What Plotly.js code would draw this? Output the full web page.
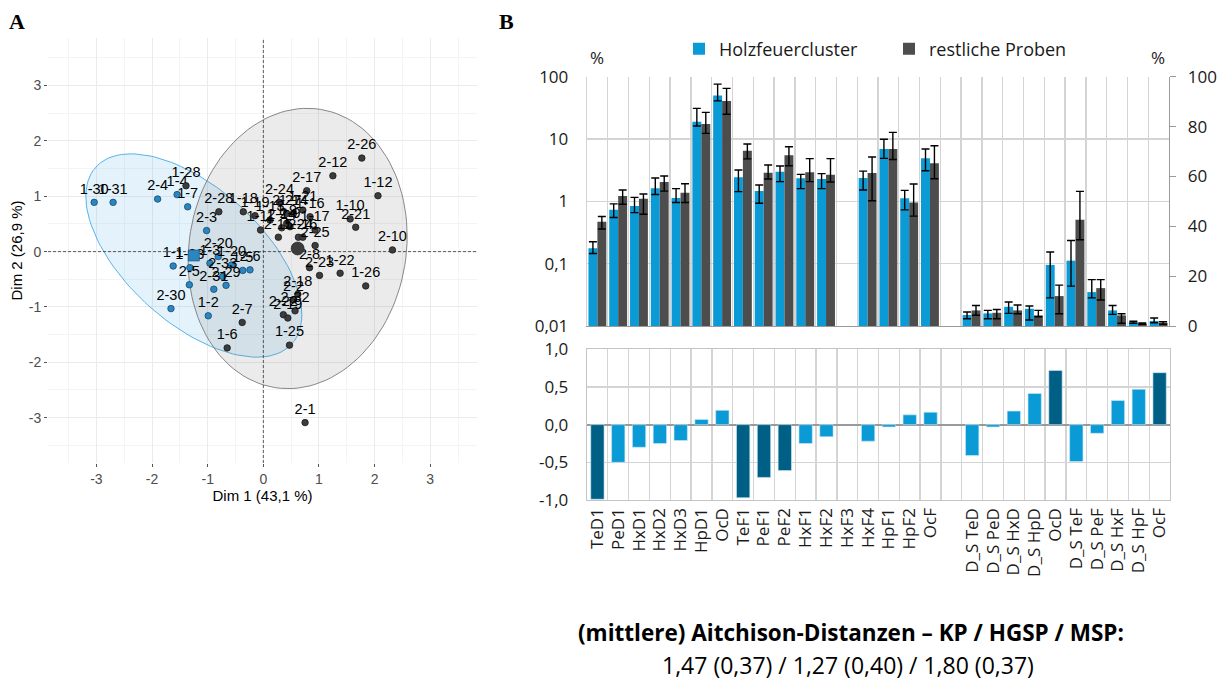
<!DOCTYPE html>
<html>
<head>
<meta charset="utf-8">
<script src="https://cdn.plot.ly/plotly-3.0.1.min.js"></script>
<style>
html,body{margin:0;padding:0;background:#fff;}
#chart{width:1227px;height:680px;}
</style>
</head>
<body>
<div id="chart"></div>
<script>
// ---------- Panel A: PCA individuals ----------
const holzLabels = ['1-30','1-31','2-4','1-4','1-7','2-3','1-1','1-33','1-3','2-20','1-20','1-5','2-6','2-33','2-5','2-31','2-29','2-30','1-2'];
const holzDim1   = [-3.04,-2.70,-1.90,-1.55,-1.36,-1.02,-1.62,-1.32,-0.96,-0.81,-0.57,-0.37,-0.24,-0.73,-1.33,-0.89,-0.67,-1.66,-0.99];
const holzDim2   = [0.89,0.89,0.95,1.03,0.81,0.38,-0.26,-0.29,-0.21,-0.09,-0.24,-0.34,-0.33,-0.45,-0.60,-0.68,-0.61,-1.03,-1.16];

const restLabels = ['1-28','2-28','1-18','1-19','1-11','2-24','2-27','1-14','1-13','1-21','2-17','2-12','2-26','1-12','1-10','2-21','2-10','1-16','1-17','2-9','1-9','2-14','2-15','1-24','2-16','2-25','2-8','2-23','1-22','1-26','2-18','2-2','2-32','2-22','2-19','1-25','2-7','1-6','2-1'];
const restDim1   = [-1.39,-0.80,-0.36,-0.15,-0.05,0.29,0.42,0.54,0.12,0.71,0.78,1.25,1.77,2.06,1.56,1.66,2.32,0.84,0.93,0.48,0.42,0.33,0.27,0.63,0.71,0.93,0.83,1.01,1.38,1.84,0.62,0.54,0.57,0.36,0.44,0.47,-0.38,-0.65,0.75];
const restDim2   = [1.19,0.72,0.72,0.65,0.39,0.89,0.69,0.69,0.57,0.75,1.10,1.37,1.69,1.01,0.59,0.44,0.03,0.63,0.39,0.45,0.51,0.43,0.26,0.26,0.26,0.11,-0.29,-0.43,-0.39,-0.62,-0.77,-0.87,-1.07,-1.14,-1.20,-1.69,-1.28,-1.74,-3.09];

const dimTicks = [-3,-2,-1,0,1,2,3];
const dimTickText = ['-3','-2','-1','0','1','2','3'];
const dimRangeX = [-3.87, 3.84];
const dimRangeY = [-3.82, 3.86];

// ---------- Panel B: bar charts ----------
const categories = ['TeD1','PeD1','HxD1','HxD2','HxD3','HpD1','OcD','TeF1','PeF1','PeF2','HxF1','HxF2','HxF3','HxF4','HpF1','HpF2','OcF','',
  'D_S TeD','D_S PeD','D_S HxD','D_S HpD','OcD','D_S TeF','D_S PeF','D_S HxF','D_S HpF','OcF'];

// relative shares, % (log axis), categories 0..16
const holzLog   = [0.176,0.73,0.84,1.62,1.13,19,50,2.43,1.46,2.99,2.34,2.28,null,2.37,6.9,1.12,4.9];
const holzLogHi = [0.225,0.91,1.16,2.37,1.6,31,76,3.18,1.83,3.69,2.71,2.78,null,3.06,9.9,1.5,6.9];
const holzLogLo = [0.146,0.55,0.66,1.29,0.96,16.2,41,1.43,0.93,2.07,1.6,1.6,null,1.52,4.9,0.73,3.1];
const restLog   = [0.47,1.22,1.1,2.04,1.38,17.4,40.8,6.5,2.88,5.47,2.92,2.68,null,2.85,6.9,0.96,4.1];
const restLogHi = [0.57,1.52,1.31,2.55,1.92,26.8,65,8.3,3.83,7.5,4.84,4.84,null,5.14,12.8,1.9,7.8];
const restLogLo = [0.36,0.9,0.62,1.46,0.96,12.3,25,4.8,2.28,3.73,2.07,2.04,null,1.02,4.7,0.58,2.3];

// D_S shares, % (right linear axis), categories 18..27
const holzShare   = [4.4,5.05,7.7,6.9,24.5,26.2,13.6,6.25,1.6,2.0];
const holzShareHi = [5.6,6.25,9.6,8.0,29.7,34.3,18.6,8.2,1.9,3.2];
const holzShareLo = [2.9,2.9,5.05,2.4,11.3,16.0,11.3,4.65,1.1,1.3];
const restShare   = [6.25,5.3,6.25,4.25,12.0,42.6,15.2,4.25,0.9,1.3];
const restShareHi = [8.2,6.6,8.4,6.25,16.4,54.0,18.6,4.9,1.2,1.7];
const restShareLo = [4.3,2.9,4.9,3.7,4.9,34.6,10.4,1.1,0.7,0.7];

// differences (lower panel), all 28 categories
const diffValues = [-0.99,-0.50,-0.30,-0.25,-0.21,0.07,0.19,-0.97,-0.70,-0.61,-0.25,-0.16,null,-0.22,-0.03,0.13,0.165,null,
  -0.41,-0.03,0.18,0.415,0.72,-0.49,-0.115,0.32,0.47,0.69];

const logTicks = [0.01,0.1,1,10,100];
const logTickText = ['0,01','0,1','1','10','100'];
const shareTicks = [0,20,40,60,80,100];
const diffTicks = [-1,-0.5,0,0.5,1];
const diffTickText = ['-1,0','-0,5','0,0','0,5','1,0'];

const captionTitle = '(mittlere) Aitchison-Distanzen – KP / HGSP / MSP:';
const captionValues = '1,47 (0,37) / 1,27 (0,40) / 1,80 (0,37)';

// ---------- helpers ----------
const BLUE = '#0A9BD6', GREY = '#4D4D4D', DARKBLUE = '#005F85';
const W = 1227, H = 680;
const px = v => v / W, py = v => 1 - v / H;
const mean = a => a.reduce((s, v) => s + v, 0) / a.length;

function ellipse(xs, ys, level) {
  const n = xs.length, mx = mean(xs), my = mean(ys);
  let sxx = 0, syy = 0, sxy = 0;
  for (let i = 0; i < n; i++) { const dx = xs[i]-mx, dy = ys[i]-my; sxx += dx*dx; syy += dy*dy; sxy += dx*dy; }
  sxx /= (n-1); syy /= (n-1); sxy /= (n-1);
  const m = n - 1;
  const fq = (m / 2) * (Math.pow(1 - level, -2 / m) - 1); // qf(level, 2, n-1)
  const r = Math.sqrt(2 * fq);
  const a = Math.sqrt(sxx), b = sxy / a, c = Math.sqrt(syy - b * b);
  const ex = [], ey = [];
  for (let k = 0; k <= 120; k++) {
    const t = 2 * Math.PI * k / 120, u = Math.cos(t), v = Math.sin(t);
    ex.push(mx + r * (a * u));
    ey.push(my + r * (b * u + c * v));
  }
  return {x: ex, y: ey};
}

const traces = [];

const logIdx = holzLog.map((_, i) => i);
const shareIdx = holzShare.map((_, i) => i + 18);
const errUp = (hi, v) => hi.map((h, i) => v[i] == null ? null : h - v[i]);
const errDn = (lo, v) => lo.map((l, i) => v[i] == null ? null : v[i] - l);
const errStyle = {color: '#000', thickness: 1.4, width: 4};
const BW = 0.43;

traces.push({type: 'bar', name: 'Holzfeuercluster', legendgroup: 'h', x: logIdx, y: holzLog,
  xaxis: 'x2', yaxis: 'y2', width: BW, offset: -BW, marker: {color: BLUE},
  error_y: Object.assign({type: 'data', symmetric: false, array: errUp(holzLogHi, holzLog), arrayminus: errDn(holzLogLo, holzLog)}, errStyle)});
traces.push({type: 'bar', name: 'restliche Proben', legendgroup: 'r', x: logIdx, y: restLog,
  xaxis: 'x2', yaxis: 'y2', width: BW, offset: 0, marker: {color: GREY},
  error_y: Object.assign({type: 'data', symmetric: false, array: errUp(restLogHi, restLog), arrayminus: errDn(restLogLo, restLog)}, errStyle)});
traces.push({type: 'bar', name: 'Holzfeuercluster', legendgroup: 'h', showlegend: false, x: shareIdx, y: holzShare,
  xaxis: 'x2', yaxis: 'y3', width: BW, offset: -BW, marker: {color: BLUE},
  error_y: Object.assign({type: 'data', symmetric: false, array: errUp(holzShareHi, holzShare), arrayminus: errDn(holzShareLo, holzShare)}, errStyle)});
traces.push({type: 'bar', name: 'restliche Proben', legendgroup: 'r', showlegend: false, x: shareIdx, y: restShare,
  xaxis: 'x2', yaxis: 'y3', width: BW, offset: 0, marker: {color: GREY},
  error_y: Object.assign({type: 'data', symmetric: false, array: errUp(restShareHi, restShare), arrayminus: errDn(restShareLo, restShare)}, errStyle)});

traces.push({type: 'bar', showlegend: false, x: categories.map((_, i) => i), y: diffValues,
  xaxis: 'x3', yaxis: 'y4', width: 0.64,
  marker: {color: diffValues.map(v => v != null && Math.abs(v) > 0.55 ? DARKBLUE : BLUE), line: {color: '#cfeaf6', width: 0.6}}});

// Panel A
const eH = ellipse(holzDim1, holzDim2, 0.95);
const eR = ellipse(restDim1, restDim2, 0.95);
traces.push({type: 'scatter', mode: 'lines', x: eH.x, y: eH.y, fill: 'toself', fillcolor: 'rgba(86,180,233,0.17)',
  line: {color: '#56B4E9', width: 1}, showlegend: false, hoverinfo: 'skip', xaxis: 'x', yaxis: 'y'});
traces.push({type: 'scatter', mode: 'lines', x: eR.x, y: eR.y, fill: 'toself', fillcolor: 'rgba(120,120,120,0.15)',
  line: {color: '#7a7a7a', width: 0.9}, showlegend: false, hoverinfo: 'skip', xaxis: 'x', yaxis: 'y'});
// dashed reference lines through the origin
traces.push({type: 'scatter', mode: 'lines', x: [0, 0], y: dimRangeY, line: {color: '#333', width: 0.8, dash: '3px,2px'},
  showlegend: false, hoverinfo: 'skip', xaxis: 'x', yaxis: 'y'});
traces.push({type: 'scatter', mode: 'lines', x: dimRangeX, y: [0, 0], line: {color: '#333', width: 0.8, dash: '3px,2px'},
  showlegend: false, hoverinfo: 'skip', xaxis: 'x', yaxis: 'y'});
const lblFont = {family: 'Liberation Sans, Arial, sans-serif', size: 14.5, color: '#000'};
traces.push({type: 'scatter', mode: 'markers+text', x: holzDim1, y: holzDim2, text: holzLabels, textposition: 'top center',
  textfont: lblFont, marker: {size: 6.5, color: '#2A86C2', line: {color: '#15496b', width: 0.8}},
  showlegend: false, cliponaxis: false, xaxis: 'x', yaxis: 'y'});
traces.push({type: 'scatter', mode: 'markers+text', x: restDim1, y: restDim2, text: restLabels, textposition: 'top center',
  textfont: lblFont, marker: {size: 6.5, color: '#3c3c3c', line: {color: '#1a1a1a', width: 0.8}},
  showlegend: false, cliponaxis: false, xaxis: 'x', yaxis: 'y'});
traces.push({type: 'scatter', mode: 'markers', x: [mean(holzDim1)], y: [mean(holzDim2)],
  marker: {size: 11, color: '#2A86C2', symbol: 'square', line: {color: '#15496b', width: 0.6}}, showlegend: false, xaxis: 'x', yaxis: 'y'});
traces.push({type: 'scatter', mode: 'markers', x: [mean(restDim1)], y: [mean(restDim2)],
  marker: {size: 13, color: '#3c3c3c', line: {color: '#1a1a1a', width: 0.6}}, showlegend: false, xaxis: 'x', yaxis: 'y'});

const tickFontA = {family: 'Liberation Sans, Arial, sans-serif', size: 14, color: '#4d4d4d'};
const fontB = {family: 'Open Sans, sans-serif', size: 17, color: '#1a1a1a'};
const gridB = '#D4D4D4';
const catMinor = {tickmode: 'linear', tick0: 0.5, dtick: 1, showgrid: true, gridcolor: gridB, gridwidth: 1.3, ticks: ''};
const ann = (text, x, y, font) => ({text: text, xref: 'paper', yref: 'paper', x: px(x), y: py(y),
  xanchor: 'center', yanchor: 'middle', showarrow: false, font: font});

const layout = {
  width: W, height: H, margin: {l: 0, r: 0, t: 0, b: 0},
  paper_bgcolor: '#fff', plot_bgcolor: '#fff',
  barmode: 'overlay', separators: ',.',
  showlegend: true,
  legend: {orientation: 'h', x: px(679), xanchor: 'left', y: py(49), yanchor: 'middle',
    font: {family: 'Open Sans, sans-serif', size: 18, color: '#1a1a1a'},
    entrywidth: 165, entrywidthmode: 'pixels', itemclick: false, itemdoubleclick: false, bgcolor: 'rgba(0,0,0,0)'},
  xaxis: {domain: [px(48), px(477)], range: dimRangeX, anchor: 'y',
    tickvals: dimTicks, ticktext: dimTickText, ticks: 'outside', ticklen: 3, tickcolor: '#555', tickfont: tickFontA,
    showgrid: true, gridcolor: '#EBEBEB', gridwidth: 1, zeroline: false, showline: false,
    minor: {tickmode: 'linear', tick0: 0.5, dtick: 1, showgrid: true, gridcolor: '#F4F4F4', gridwidth: 1, ticks: ''},
    title: {text: 'Dim 1 (43,1 %)', font: {family: 'Liberation Sans, Arial, sans-serif', size: 15, color: '#000'}, standoff: 3}},
  yaxis: {domain: [py(463), py(38)], range: dimRangeY, anchor: 'x',
    tickvals: dimTicks, ticktext: dimTickText, ticks: 'outside', ticklen: 3, tickcolor: '#555', tickfont: tickFontA,
    showgrid: true, gridcolor: '#EBEBEB', gridwidth: 1, zeroline: false, showline: false,
    minor: {tickmode: 'linear', tick0: 0.5, dtick: 1, showgrid: true, gridcolor: '#F4F4F4', gridwidth: 1, ticks: ''},
    title: {text: 'Dim 2 (26,9 %)', font: {family: 'Liberation Sans, Arial, sans-serif', size: 15, color: '#000'}, standoff: 2}},
  xaxis2: {domain: [px(587), px(1169)], range: [-0.5, categories.length - 0.5], anchor: 'y2',
    showticklabels: false, ticks: '', showgrid: false, zeroline: false,
    showline: true, linecolor: '#9a9a9a', linewidth: 1.3, minor: catMinor},
  yaxis2: {domain: [py(326), py(76.7)], type: 'log', range: [-2, 2], anchor: 'x2',
    tickvals: logTicks, ticktext: logTickText, tickfont: fontB, ticks: 'outside', ticklen: 14, tickcolor: 'rgba(0,0,0,0)',
    showgrid: true, gridcolor: gridB, gridwidth: 1.3, zeroline: false, showline: true, linecolor: gridB, linewidth: 1.3},
  yaxis3: {domain: [py(326), py(76.7)], overlaying: 'y2', side: 'right', anchor: 'x2', range: [0, 100],
    tickvals: shareTicks, tickfont: fontB, ticks: 'outside', ticklen: 6, tickcolor: '#9a9a9a', ticklabelstandoff: 8,
    showgrid: false, zeroline: false, showline: true, linecolor: '#9a9a9a', linewidth: 1.3},
  xaxis3: {domain: [px(587), px(1170)], range: [-0.5, categories.length - 0.5], anchor: 'y4',
    tickvals: categories.map((_, i) => i), ticktext: categories, tickangle: -90, ticks: '',
    tickfont: {family: 'Open Sans, sans-serif', size: 17, color: '#1a1a1a'},
    showgrid: false, zeroline: false, showline: true, mirror: true, linecolor: '#C4C4C4', linewidth: 1.3, minor: catMinor},
  yaxis4: {domain: [py(500), py(349.3)], range: [-1, 1], anchor: 'x3',
    tickvals: diffTicks, ticktext: diffTickText, tickfont: fontB, ticks: 'outside', ticklen: 14, tickcolor: 'rgba(0,0,0,0)',
    showgrid: true, gridcolor: gridB, gridwidth: 1.3, zeroline: true, zerolinecolor: '#9a9a9a', zerolinewidth: 2,
    showline: true, mirror: true, linecolor: '#C4C4C4', linewidth: 1.3},
  annotations: [
    ann('<b>A</b>', 17, 22, {family: 'Liberation Serif, serif', size: 22, color: '#000'}),
    ann('<b>B</b>', 506, 22, {family: 'Liberation Serif, serif', size: 22, color: '#000'}),
    ann('%', 597, 57, fontB),
    ann('%', 1158, 57, fontB),
    ann('<b>' + captionTitle + '</b>', 851, 632, {family: 'Open Sans, sans-serif', size: 22.5, color: '#000'}),
    ann(captionValues, 848, 665, {family: 'Open Sans, sans-serif', size: 23, color: '#000'})
  ]
};

Plotly.newPlot('chart', traces, layout, {displayModeBar: false, staticPlot: true});
</script>
</body>
</html>
